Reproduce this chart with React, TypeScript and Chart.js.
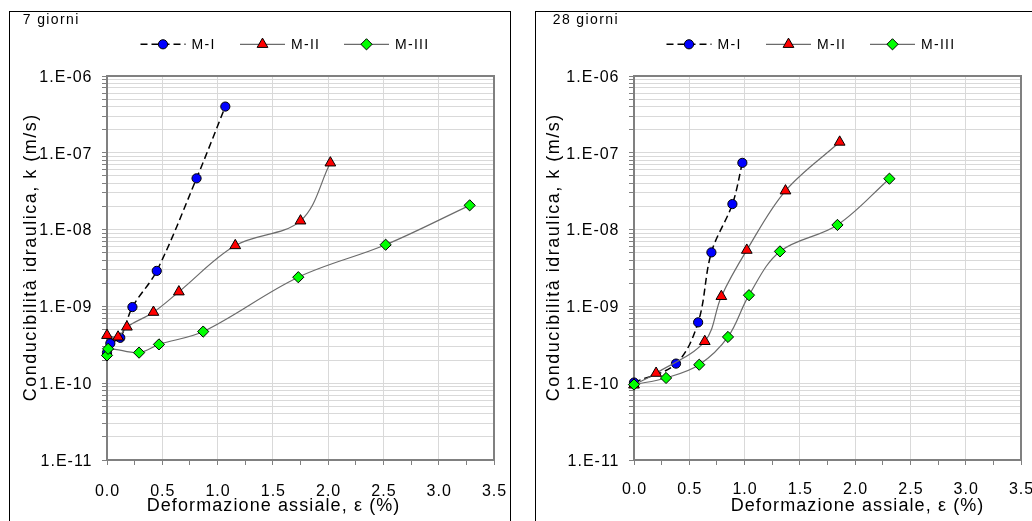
import React, { useEffect, useRef } from 'react';
import { Chart, registerables } from 'chart.js';

Chart.register(...registerables);

// ---------------- DATA ----------------
const seriesNames = ['M-I', 'M-II', 'M-III'];
const panelTitles = ['7 giorni', '28 giorni'];

// 7 giorni
const g7_MI_x = [0, 0.03, 0.12, 0.23, 0.45, 0.81, 1.07];
const g7_MI_k = [2.5e-10, 3.3e-10, 3.9e-10, 9.8e-10, 2.9e-9, 4.65e-8, 4.0e-7];
const g7_MII_x = [0, 0.1, 0.18, 0.42, 0.65, 1.16, 1.75, 2.02];
const g7_MII_k = [4.2e-10, 4.0e-10, 5.4e-10, 8.4e-10, 1.55e-9, 6.2e-9, 1.3e-8, 7.4e-8];
const g7_MIII_x = [0, 0.01, 0.29, 0.47, 0.87, 1.73, 2.52, 3.28];
const g7_MIII_k = [2.3e-10, 2.8e-10, 2.5e-10, 3.2e-10, 4.7e-10, 2.4e-9, 6.35e-9, 2.07e-8];

// 28 giorni
const g28_MI_x = [0, 0.38, 0.58, 0.7, 0.89, 0.98];
const g28_MI_k = [1.02e-10, 1.8e-10, 6.2e-10, 5.05e-9, 2.15e-8, 7.4e-8];
const g28_MII_x = [0, 0.2, 0.64, 0.79, 1.02, 1.37, 1.86];
const g28_MII_k = [9.5e-11, 1.35e-10, 3.5e-10, 1.35e-9, 5.4e-9, 3.2e-8, 1.38e-7];
const g28_MIII_x = [0, 0.29, 0.59, 0.85, 1.04, 1.32, 1.84, 2.31];
const g28_MIII_k = [9.6e-11, 1.17e-10, 1.74e-10, 4.0e-10, 1.4e-9, 5.2e-9, 1.15e-8, 4.6e-8];

// axes
const xTickValues = [0, 0.25, 0.5, 0.75, 1, 1.25, 1.5, 1.75, 2, 2.25, 2.5, 2.75, 3, 3.25, 3.5];
const xTickLabels = ['0.0', '', '0.5', '', '1.0', '', '1.5', '', '2.0', '', '2.5', '', '3.0', '', '3.5'];
const yDecades = [1e-11, 1e-10, 1e-9, 1e-8, 1e-7, 1e-6];
const yTickLabels = ['1.E-11', '1.E-10', '1.E-09', '1.E-08', '1.E-07', '1.E-06'];
const yMinorMultipliers = [2, 3, 4, 5, 6, 7, 8, 9];
const xAxisTitle = 'Deformazione assiale, ε (%)';
const yAxisTitle = 'Conducibilità idraulica, k (m/s)';

// ---------------- STYLE ----------------
const FONT = '"Liberation Sans", Arial, sans-serif';
const GRID = '#d9d9d9';
const TICK = '#808080';
const W = 500;
const H = 515;

type Style = { shape: 'circle' | 'triangle' | 'rectRot'; fill: string; r: number; line: string; dash: number[]; lw: number };
const styles: Style[] = [
  { shape: 'circle', fill: '#0000FF', r: 4.6, line: '#000000', dash: [7, 4], lw: 1.5 },
  { shape: 'triangle', fill: '#FF0000', r: 6.2, line: '#6b6b6b', dash: [], lw: 1.2 },
  { shape: 'rectRot', fill: '#00FF00', r: 5.6, line: '#6b6b6b', dash: [], lw: 1.2 },
];

type PanelCfg = {
  left: number;
  title: string;
  series: { x: number[]; k: number[] }[];
  area: { left: number; right: number; top: number; bottom: number };
  titleX: number;
  yTitleBaseX: number;
  yTitleCenterY: number;
  yTickGap: number;
  xTickBaseline: number;
  xTitleCenter: number;
  xTitleBaseline: number;
};

function drawText(
  ctx: CanvasRenderingContext2D,
  str: string,
  x: number,
  y: number,
  size: number,
  spacing: number,
  align: 'left' | 'center' | 'right',
) {
  ctx.save();
  ctx.font = `${size}px ${FONT}`;
  (ctx as any).letterSpacing = '0px';
  const w = ctx.measureText(str).width + spacing * (str.length - 1);
  (ctx as any).letterSpacing = `${spacing}px`;
  ctx.textAlign = 'left';
  ctx.textBaseline = 'alphabetic';
  ctx.fillStyle = '#000';
  const x0 = align === 'left' ? x : align === 'center' ? x - w / 2 : x - w;
  ctx.fillText(str, x0, y);
  ctx.restore();
}

function drawMarker(ctx: CanvasRenderingContext2D, s: Style, x: number, y: number) {
  ctx.save();
  ctx.beginPath();
  if (s.shape === 'circle') {
    ctx.arc(x, y, s.r, 0, Math.PI * 2);
  } else if (s.shape === 'triangle') {
    for (let i = 0; i < 3; i++) {
      const a = (i * 2 * Math.PI) / 3;
      const px = x + Math.sin(a) * s.r;
      const py = y - Math.cos(a) * s.r;
      if (i === 0) ctx.moveTo(px, py);
      else ctx.lineTo(px, py);
    }
    ctx.closePath();
  } else {
    ctx.moveTo(x - s.r, y);
    ctx.lineTo(x, y - s.r);
    ctx.lineTo(x + s.r, y);
    ctx.lineTo(x, y + s.r);
    ctx.closePath();
  }
  ctx.fillStyle = s.fill;
  ctx.fill();
  ctx.lineWidth = 1;
  ctx.strokeStyle = '#000';
  ctx.stroke();
  ctx.restore();
}

function Panel({ cfg }: { cfg: PanelCfg }) {
  const ref = useRef<HTMLCanvasElement>(null);

  useEffect(() => {
    const canvas = ref.current;
    if (!canvas) return;
    const yAll: number[] = [];
    yDecades.forEach((d, i) => {
      yAll.push(d);
      if (i < yDecades.length - 1) yMinorMultipliers.forEach((m) => yAll.push(d * m));
    });
    const a = cfg.area;

    const decor = {
      id: 'decor',
      beforeDatasetsDraw(chart: any) {
        const { ctx, chartArea: c } = chart;
        ctx.save();
        ctx.strokeStyle = '#808080';
        ctx.lineWidth = 2;
        ctx.strokeRect(c.left, c.top, c.right - c.left, c.bottom - c.top);
        ctx.restore();
      },
      afterDraw(chart: any) {
        const { ctx, chartArea: c } = chart;
        const xs = chart.scales.x;
        const ys = chart.scales.y;
        // y tick labels
        yDecades.forEach((v, i) => {
          const py = ys.getPixelForValue(v);
          drawText(ctx, yTickLabels[i], c.left - cfg.yTickGap, py + 5.8, 16, 1, 'right');
        });
        // x tick labels
        xTickValues.forEach((v, i) => {
          if (!xTickLabels[i]) return;
          const px = xs.getPixelForValue(v);
          drawText(ctx, xTickLabels[i], px, cfg.xTickBaseline, 16, 1, 'center');
        });
        // axis titles
        drawText(ctx, xAxisTitle, cfg.xTitleCenter, cfg.xTitleBaseline, 18, 1.1, 'center');
        ctx.save();
        ctx.translate(cfg.yTitleBaseX, cfg.yTitleCenterY);
        ctx.rotate(-Math.PI / 2);
        drawText(ctx, yAxisTitle, 0, 0, 18, 1.5, 'center');
        ctx.restore();
        // panel title
        drawText(ctx, cfg.title, cfg.titleX, 11.5, 14, 1.4, 'left');
        // legend
        const legX = [130.5, 230, 334];
        const legY = 32.3;
        const lineLen = 45;
        seriesNames.forEach((name, i) => {
          const s = styles[i];
          ctx.save();
          ctx.strokeStyle = s.line;
          ctx.lineWidth = s.lw;
          ctx.setLineDash(s.dash);
          ctx.beginPath();
          ctx.moveTo(legX[i], legY);
          ctx.lineTo(legX[i] + lineLen, legY);
          ctx.stroke();
          ctx.restore();
          drawMarker(ctx, s, legX[i] + lineLen / 2, legY);
          drawText(ctx, name, legX[i] + lineLen + 6, legY + 4.8, 14, 1.3, 'left');
        });
      },
    };

    const datasets = cfg.series.map((s, i) => ({
      label: seriesNames[i],
      data: s.x.map((x, j) => ({ x, y: s.k[j] })),
      borderColor: styles[i].line,
      borderWidth: styles[i].lw,
      borderDash: styles[i].dash,
      backgroundColor: styles[i].fill,
      pointStyle: styles[i].shape,
      pointRadius: styles[i].r,
      pointBackgroundColor: styles[i].fill,
      pointBorderColor: '#000',
      pointBorderWidth: 1,
      tension: 0.35,
      fill: false,
      clip: false as any,
      order: 3 - i,
    }));

    const chart = new Chart(canvas, {
      type: 'line',
      data: { datasets: datasets as any },
      options: {
        animation: false,
        responsive: false,
        maintainAspectRatio: false,
        events: [],
        layout: { padding: { left: 0, top: a.top, right: W - a.right, bottom: 0 } },
        plugins: { legend: { display: false }, tooltip: { enabled: false }, title: { display: false } },
        scales: {
          x: {
            type: 'linear',
            min: 0,
            max: 3.5,
            afterBuildTicks: (s: any) => {
              s.ticks = xTickValues.map((v) => ({ value: v }));
            },
            afterFit: (s: any) => {
              s.height = H - a.bottom;
            },
            ticks: { display: false },
            grid: {
              color: (c: any) => {
                const v = c.tick ? c.tick.value : 0;
                return Math.abs(v * 2 - Math.round(v * 2)) < 1e-6 ? GRID : 'rgba(0,0,0,0)';
              },
              tickColor: TICK,
              tickLength: 5,
              lineWidth: 1,
            },
            border: { display: false },
          },
          y: {
            type: 'logarithmic',
            min: 1e-11,
            max: 1e-6,
            afterBuildTicks: (s: any) => {
              s.ticks = yAll.map((v) => ({ value: v }));
            },
            afterFit: (s: any) => {
              s.width = a.left;
            },
            ticks: { display: false },
            grid: { color: GRID, tickColor: TICK, tickLength: 5, lineWidth: 1 },
            border: { display: false },
          },
        },
      } as any,
      plugins: [decor],
    });
    return () => chart.destroy();
  }, [cfg]);

  return (
    <div
      style={{
        position: 'absolute',
        left: cfg.left,
        top: 11,
        width: 502,
        height: 530,
        border: '1px solid #000',
        boxSizing: 'border-box',
        overflow: 'hidden',
        background: '#fff',
      }}
    >
      <canvas ref={ref} width={W} height={H} style={{ position: 'absolute', left: 0, top: 0, width: W, height: H }} />
    </div>
  );
}

const leftCfg: PanelCfg = {
  left: 9,
  title: panelTitles[0],
  series: [
    { x: g7_MI_x, k: g7_MI_k },
    { x: g7_MII_x, k: g7_MII_k },
    { x: g7_MIII_x, k: g7_MIII_k },
  ],
  area: { left: 97, right: 484, top: 64, bottom: 448 },
  titleX: 12.7,
  yTitleBaseX: 25.5,
  yTitleCenterY: 246,
  yTickGap: 15.5,
  xTickBaseline: 484,
  xTitleCenter: 263,
  xTitleBaseline: 499,
};

const rightCfg: PanelCfg = {
  left: 535,
  title: panelTitles[1],
  series: [
    { x: g28_MI_x, k: g28_MI_k },
    { x: g28_MII_x, k: g28_MII_k },
    { x: g28_MIII_x, k: g28_MIII_k },
  ],
  area: { left: 98, right: 485, top: 64, bottom: 448 },
  titleX: 16.7,
  yTitleBaseX: 23.4,
  yTitleCenterY: 246,
  yTickGap: 15.5,
  xTickBaseline: 482,
  xTitleCenter: 321,
  xTitleBaseline: 499,
};

export default function App() {
  return (
    <div style={{ position: 'fixed', left: 0, top: 0, width: 1032, height: 521, overflow: 'hidden', background: '#fff' }}>
      <Panel cfg={leftCfg} />
      <Panel cfg={rightCfg} />
    </div>
  );
}
